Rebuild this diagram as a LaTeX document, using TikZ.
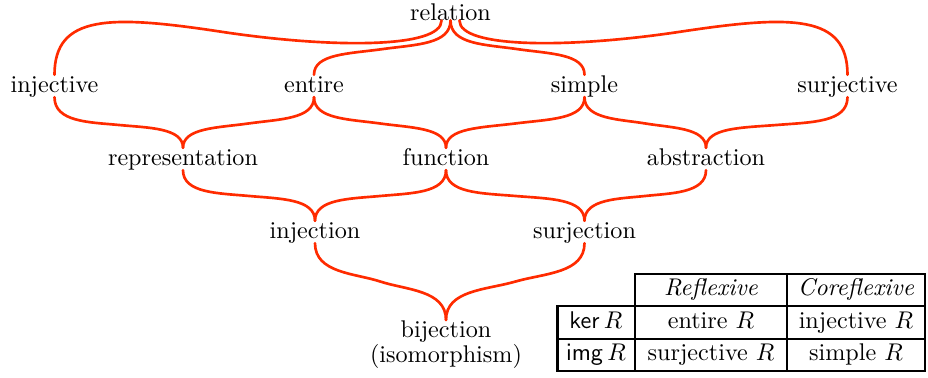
\documentclass[tikz,border=0pt]{standalone}
\usepackage{amsmath}
\usepackage{tikz}
\usetikzlibrary{calc}
\definecolor{Link}{HTML}{FF2B00}
\definecolor{Ink}{HTML}{000000}

% brace-like connector: upper anchor, lower anchor, drop below upper, rise above lower, widths at both ends
\newcommand\linkup[6]{%
  \coordinate (c1) at ($(#1)+(0,#3)$);
  \coordinate (c2) at ($(c1)+(#5,0)$);
  \coordinate (c4) at ($(#2)+(0,#4)$);
  \coordinate (c3) at ($(c4)-(#6,0)$);
  \draw[link] (#1) .. controls (c1) and (c2) .. ($(c2)!.5!(c3)$) .. controls (c3) and (c4) .. (#2);}

\begin{document}
\begin{tikzpicture}[x=0.414pt,y=-0.414pt,
  term/.style={inner sep=0pt,anchor=base,text height=6.94pt,text depth=1.94pt},
  link/.style={Link,line width=1.1pt,line cap=round},
  rule/.style={Ink,line width=1.15pt,line cap=rect},
  cell/.style={inner sep=0pt,anchor=base}]
  \useasboundingbox (0,0) rectangle (928,377);
  % the lattice
  \node[term,text depth=0pt] (rel) at (450.5,20) {relation};
  \node[term] (inj) at (54.5,92) {injective};
  \node[term] (ent) at (314,92) {entire};
  \node[term] (sim) at (584.5,92) {simple};
  \node[term] (sur) at (847.5,92) {surjective};
  \node[term] (rep) at (183,165) {representation};
  \node[term] (fun) at (446,165) {function};
  \node[term] (abs) at (706,165) {abstraction};
  \node[term] (injn) at (315,238) {injection};
  \node[term] (surn) at (584.5,238) {surjection};
  \node[inner sep=0pt,align=center,anchor=north] (bij) at (446,320) {bijection\\[-1.5pt](isomorphism)};
  \coordinate (relL) at ([xshift=-3.7pt]rel.south);
  \coordinate (relR) at ([xshift=3.7pt]rel.south);
  \linkup{rel.south}{ent.north}{24}{-21}{-35}{-35}
  \linkup{rel.south}{sim.north}{24}{-21}{35}{35}
  \linkup{relL}{inj.north}{28}{-60}{-110}{-55}
  \linkup{relR}{sur.north}{28}{-60}{110}{55}
  \linkup{inj.south}{rep.north}{25}{-20}{35}{35}
  \linkup{ent.south}{rep.north}{22}{-20}{-35}{-35}
  \linkup{ent.south}{fun.north}{22}{-20}{35}{35}
  \linkup{sim.south}{fun.north}{22}{-20}{-35}{-35}
  \linkup{sim.south}{abs.north}{22}{-20}{35}{35}
  \linkup{sur.south}{abs.north}{25}{-20}{-35}{-35}
  \linkup{rep.south}{injn.north}{23}{-22}{35}{35}
  \linkup{fun.south}{injn.north}{23}{-22}{-35}{-35}
  \linkup{fun.south}{surn.north}{23}{-22}{35}{35}
  \linkup{abs.south}{surn.north}{23}{-22}{-35}{-35}
  \linkup{injn.south}{bij.north}{30}{-30}{40}{40}
  \linkup{surn.south}{bij.north}{30}{-30}{-40}{-40}
  % the table
  \draw[rule] (635,274) -- (925,274);
  \foreach \y in {306,339,371}{\draw[rule] (557.7,\y) -- (925,\y);}
  \foreach \x in {635,787,925}{\draw[rule] (\x,274) -- (\x,371);}
  \draw[rule] (557.7,306) -- (557.7,371);
  \node[cell] (hrefl) at (711,295) {\textit{Reflexive}};
  \node[cell] (hcore) at (856,295) {\textit{Coreflexive}};
  \node[cell] (rker) at (596,328) {$\mathsf{ker}\,R$};
  \node[cell] (kent) at (711,328) {entire $R$};
  \node[cell] (kinj) at (856,328) {injective $R$};
  \node[cell] (rimg) at (596,360) {$\mathsf{img}\,R$};
  \node[cell] (isur) at (711,360) {surjective $R$};
  \node[cell] (isim) at (856,360) {simple $R$};
\end{tikzpicture}
\end{document}
